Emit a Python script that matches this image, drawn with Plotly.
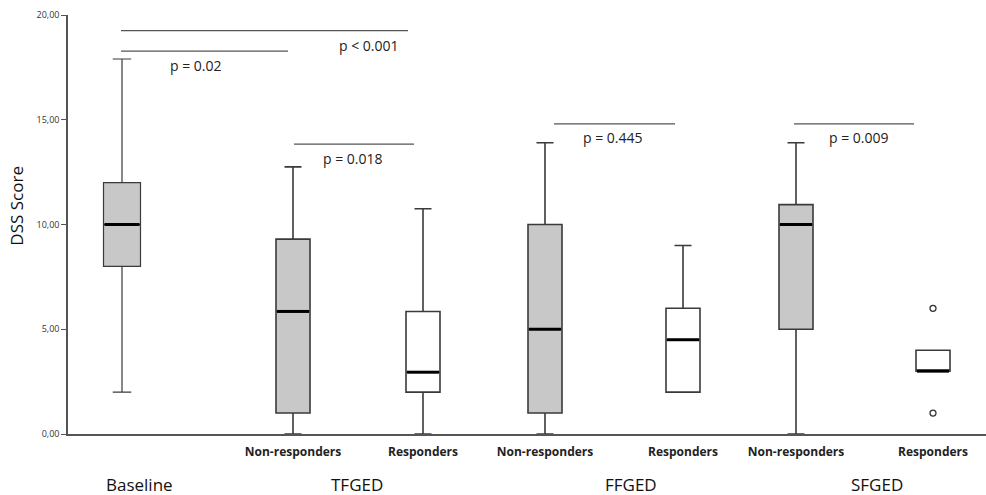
import plotly.graph_objects as go

# ---- data ----
groups = ["Baseline", "TFGED", "TFGED", "FFGED", "FFGED", "SFGED", "SFGED"]
subgroups = ["", "Non-responders", "Responders", "Non-responders", "Responders", "Non-responders", "Responders"]
lower_whisker = [2.0, 0.0, 0.0, 0.0, 2.0, 0.0, 3.0]
q1 = [8.0, 1.0, 2.0, 1.0, 2.0, 5.0, 3.0]
median = [10.0, 5.85, 2.95, 5.0, 4.5, 10.0, 3.0]
q3 = [12.0, 9.3, 5.85, 10.0, 6.0, 10.95, 4.0]
upper_whisker = [17.9, 12.75, 10.75, 13.9, 9.0, 13.9, 4.0]
outliers = [[], [], [], [], [], [], [6.0, 1.0]]
responder = [False, False, True, False, True, False, True]

# significance comparisons: (p label, line level, text level)
comparisons = [
    ("p < 0.001", 19.25, 18.53),
    ("p = 0.02", 18.28, 17.6),
    ("p = 0.018", 13.84, 13.17),
    ("p = 0.445", 14.8, 14.13),
    ("p = 0.009", 14.8, 14.13),
]

# ---- layout helpers (positions) ----
pos = [1.0, 2.71, 4.01, 5.23, 6.61, 7.74, 9.11]
box_w = [0.37, 0.34, 0.34, 0.34, 0.34, 0.34, 0.34]
cmp_x = [(0.99, 3.86, 3.47), (0.99, 2.66, 1.74), (2.72, 3.92, 3.31), (5.32, 6.53, 5.91), (7.72, 8.92, 8.37)]
group_label_x = [1.17, 3.35, 6.09, 8.55]
group_names = ["Baseline", "TFGED", "FFGED", "SFGED"]

fig = go.Figure()
for i in range(len(pos)):
    fill = "white" if responder[i] else "#c8c8c8"
    fig.add_trace(go.Box(
        x=[pos[i]], q1=[q1[i]], median=[median[i]], q3=[q3[i]],
        lowerfence=[lower_whisker[i]], upperfence=[upper_whisker[i]],
        width=box_w[i], whiskerwidth=0.5, fillcolor=fill,
        line=dict(color="#3a3a3a", width=1.6 if i > 0 else 1.2),
        boxpoints=False, showlegend=False, hoverinfo="skip",
    ))
    # bold median line
    fig.add_trace(go.Scatter(
        x=[pos[i] - box_w[i] / 2 + 0.01, pos[i] + box_w[i] / 2 - 0.01], y=[median[i], median[i]],
        mode="lines", line=dict(color="black", width=3),
        showlegend=False, hoverinfo="skip",
    ))
    if outliers[i]:
        fig.add_trace(go.Scatter(
            x=[pos[i]] * len(outliers[i]), y=outliers[i], mode="markers",
            marker=dict(symbol="circle-open", size=6, color="#333", line=dict(width=1.3)),
            showlegend=False, hoverinfo="skip",
        ))

for (label, ly, ty), (x0, x1, tx) in zip(comparisons, cmp_x):
    fig.add_trace(go.Scatter(
        x=[x0, x1], y=[ly, ly], mode="lines",
        line=dict(color="#555", width=1.2), showlegend=False, hoverinfo="skip",
    ))
    fig.add_annotation(x=tx, y=ty, text=label, showarrow=False,
                       font=dict(family="Open Sans", size=14, color="#222"))

for gx, gn in zip(group_label_x, group_names):
    fig.add_annotation(x=gx, y=0, yref="paper", yshift=-50, yanchor="middle",
                       text=gn, showarrow=False,
                       font=dict(family="Open Sans", size=17, color="#111"))

# y-axis title as annotation (positioned as in the original)
fig.add_annotation(x=0, xref="paper", xshift=-51, xanchor="center",
                   y=10.9, yanchor="middle", text="DSS Score", textangle=-90,
                   showarrow=False, font=dict(family="Open Sans", size=17, color="#111"))

fig.update_layout(
    width=986, height=495,
    margin=dict(l=68, r=0, t=15, b=61),
    plot_bgcolor="white", paper_bgcolor="white",
    font=dict(family="Open Sans", color="#222"),
)
fig.update_xaxes(
    range=[0.46, 9.64], showgrid=False, zeroline=False,
    showline=True, linecolor="#555", linewidth=1.5,
    tickvals=pos[1:], ticktext=["<b>%s</b>" % s for s in subgroups[1:]],
    ticks="", ticklabelstandoff=6,
    tickfont=dict(family="Open Sans", size=12, color="#222"),
)
fig.update_yaxes(
    range=[0, 20], tickvals=[0, 5, 10, 15, 20],
    ticktext=["0,00", "5,00", "10,00", "15,00", "20,00"],
    showgrid=False, zeroline=False,
    showline=True, linecolor="#555", linewidth=1.5,
    ticks="outside", ticklen=5, tickcolor="#555", tickwidth=1.2,
    tickfont=dict(family="Open Sans", size=9, color="#333"),
)

fig.write_html("out.html")
